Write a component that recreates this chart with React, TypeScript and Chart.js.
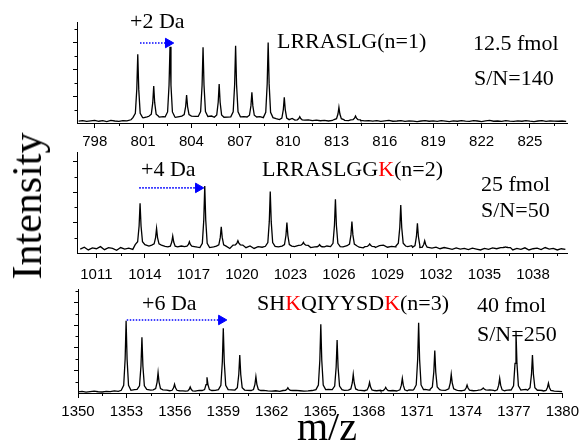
import React, { useEffect, useRef } from 'react';
import { Chart, registerables } from 'chart.js';

Chart.register(...registerables);

// ---------- data ----------
const NOISE_STEP = 0.25;

// panel 1: LRRASLG (n=1)
const xRange1 = [796.9, 827.3];
const yMax1 = 7.54;
const noiseStart1 = 797;
const noise1 = [
  14, 18, 12, 16, 20, 13, 17, 11, 19, 15, 12, 18,
  16, 24, 35, 40, 38, 45, 42, 50, 44, 48, 40, 46,
  42, 48, 45, 52, 46, 50, 44, 49, 45, 52, 47, 43,
  48, 44, 50, 46, 42, 47, 40, 45, 42, 48, 44, 40,
  38, 32, 28, 25, 30, 34, 26, 22, 20, 24, 18, 21,
  17, 20, 15, 19, 22, 26, 20, 18, 30, 24, 19, 16,
  18, 14, 17, 12, 16, 19, 13, 15, 18, 12, 16, 14,
  11, 15, 18, 13, 16, 12, 17, 14, 11, 16, 13, 18,
  14, 12, 17, 15, 11, 16, 19, 13, 15, 12, 17, 14,
  12, 16, 13, 18, 14, 11, 15, 17, 12, 16, 14, 13,
  15, 12,
];
const peakMz1 = [800.67, 801.66, 802.67, 803.7, 804.72, 805.72, 806.74, 807.75, 808.76, 809.76, 810.72, 813.15, 814.18];
const peakH1 = [5.13, 2.76, 5.69, 2.09, 5.65, 2.91, 5.77, 2.29, 6.0, 1.92, 0.47, 1.17, 0.52];
const arrow1 = { from: 800.81, to: 802.86, y: 5.97 };

// panel 2: LRRASLGGK (n=2)
const xRange2 = [1009.8, 1040.1];
const yMax2 = 6.64;
const noiseStart2 = 1010;
const noise2 = [
  25, 38, 20, 33, 28, 42, 22, 35, 30, 18, 36, 26,
  32, 24, 40, 55, 48, 45, 38, 52, 36, 44, 30, 40,
  34, 46, 28, 42, 50, 38, 44, 36, 48, 40, 32, 45,
  38, 30, 44, 52, 40, 35, 46, 30, 42, 38, 50, 44,
  48, 40, 36, 45, 32, 42, 38, 50, 44, 36, 52, 40,
  30, 46, 38, 42, 55, 40, 36, 48, 44, 38, 34, 50,
  42, 36, 48, 52, 38, 44, 40, 46, 34, 42, 48, 38,
  44, 36, 40, 32, 38, 28, 36, 30, 24, 34, 26, 30,
  22, 32, 26, 20, 30, 24, 34, 28, 22, 36, 26, 20,
  30, 24, 34, 20, 28, 32, 22, 36, 26, 30, 20, 28,
  24,
];
const peakMz2 = [1013.7, 1014.72, 1015.72, 1016.75, 1017.7, 1018.72, 1019.75, 1021.75, 1022.78, 1023.8, 1024.8, 1025.78, 1026.8, 1027.9, 1029.82, 1030.85, 1031.3, 1036.3];
const peakH2 = [3.27, 1.62, 1.12, 0.75, 4.41, 1.73, 0.81, 4.04, 2.0, 0.7, 0.55, 3.53, 2.06, 0.6, 3.16, 1.95, 0.8, 0.4];
const arrow2 = { from: 1013.65, to: 1017.6, y: 4.28 };

// panel 3: SHKQIYYSDK (n=3)
const xRange3 = [1350, 1380];
const yMax3 = 9.2;
const noiseStart3 = 1350;
const noise3 = [
  10, 14, 8, 12, 16, 11, 9, 14, 12, 18, 15, 20,
  24, 28, 30, 26, 32, 28, 25, 30, 28, 24, 26, 22,
  20, 24, 18, 22, 16, 20, 24, 18, 22, 26, 24, 28,
  30, 26, 28, 32, 26, 30, 24, 28, 22, 20, 24, 18,
  16, 20, 14, 18, 22, 26, 24, 20, 16, 18, 22, 26,
  30, 28, 32, 26, 30, 28, 24, 28, 26, 22, 24, 20,
  22, 18, 20, 24, 20, 16, 22, 18, 20, 24, 28, 26,
  30, 28, 32, 26, 30, 28, 26, 24, 28, 22, 24, 20,
  22, 18, 20, 24, 26, 22, 28, 24, 20, 18, 24, 28,
  30, 26, 28, 32, 28, 24, 26, 22, 20, 18, 16, 14,
  12,
];
const peakMz3 = [1352.98, 1353.96, 1354.96, 1355.98, 1356.95, 1357.99, 1359.0, 1360.02, 1361.02, 1363.0, 1365.04, 1366.05, 1367.05, 1368.06, 1369.06, 1370.09, 1371.1, 1372.1, 1373.12, 1374.1, 1375.1, 1376.12, 1377.13, 1378.15, 1379.14];
const peakH3 = [6.4, 4.93, 1.8, 0.77, 0.53, 1.39, 5.72, 3.36, 1.44, 0.47, 6.08, 4.69, 1.65, 0.95, 0.5, 1.3, 6.22, 3.75, 1.65, 0.7, 0.45, 1.3, 5.5, 3.36, 0.86];
const arrow3 = { from: 1353.02, to: 1359.18, y: 6.46 };

const xTickStep = 3;
const yTickStep = 2;

// ---------- helpers ----------
type Pt = { x: number; y: number };

// peak outline (offset in m/z, fraction of peak height above local noise)
const PEAK_SHAPE: [number, number][] = [
  [-0.3, 0], [-0.15, 0.07], [-0.06, 0.45], [0, 1], [0.06, 0.45], [0.15, 0.07], [0.3, 0],
];

function buildSpectrum(start: number, noise: number[], mz: number[], h: number[]): Pt[] {
  const pts: Pt[] = [];
  const noiseAt = (x: number) => {
    const i = Math.max(0, Math.min(noise.length - 1, Math.round((x - start) / NOISE_STEP)));
    return noise[i] / 100;
  };
  noise.forEach((v, i) => {
    const x = start + i * NOISE_STEP;
    if (mz.every((m) => Math.abs(m - x) > 0.3)) pts.push({ x, y: v / 100 });
  });
  mz.forEach((m, i) => {
    const nb = noiseAt(m);
    PEAK_SHAPE.forEach(([dx, f]) => {
      pts.push({ x: m + dx, y: f === 1 ? h[i] : nb + (h[i] - nb) * f });
    });
  });
  pts.sort((a, b) => a.x - b.x);
  return pts;
}

type PanelCfg = {
  top: number;
  height: number;
  areaLeft: number;
  areaTop: number;
  areaRight: number;
  baseline: number;
  labelPad: number;
  xRange: number[];
  yMax: number;
  noiseStart: number;
  noise: number[];
  mz: number[];
  h: number[];
  arrow: { from: number; to: number; y: number };
};

function makeMinorPlugin(cfg: PanelCfg) {
  return {
    id: 'minorTicks',
    afterDraw(chart: any) {
      const ctx = chart.ctx as CanvasRenderingContext2D;
      const xs = chart.scales.x;
      const ys = chart.scales.y;
      const area = chart.chartArea;
      ctx.save();
      ctx.strokeStyle = '#000';
      ctx.lineWidth = 1;
      const half = xTickStep / 2;
      for (let v = Math.ceil(cfg.xRange[0] / half) * half; v <= cfg.xRange[1]; v += half) {
        if (Math.abs(v / xTickStep - Math.round(v / xTickStep)) < 1e-6) continue;
        const px = Math.round(xs.getPixelForValue(v)) + 0.5;
        ctx.beginPath();
        ctx.moveTo(px, area.bottom);
        ctx.lineTo(px, area.bottom + 3);
        ctx.stroke();
      }
      for (let v = 1; v <= cfg.yMax; v += yTickStep) {
        const py = Math.round(ys.getPixelForValue(v)) + 0.5;
        ctx.beginPath();
        ctx.moveTo(area.left, py);
        ctx.lineTo(area.left - 2.5, py);
        ctx.stroke();
      }
      ctx.restore();
    },
  };
}

function Panel({ cfg }: { cfg: PanelCfg }) {
  const ref = useRef<HTMLCanvasElement>(null);
  useEffect(() => {
    if (!ref.current) return;
    const spectrum = buildSpectrum(cfg.noiseStart, cfg.noise, cfg.mz, cfg.h);
    const headShift = 0.3;
    const chart = new Chart(ref.current, {
      type: 'line',
      data: {
        datasets: [
          {
            data: spectrum,
            borderColor: '#000',
            borderWidth: 1.3,
            pointRadius: 0,
            tension: 0,
            fill: false,
          },
          {
            data: [
              { x: cfg.arrow.from, y: cfg.arrow.y },
              { x: cfg.arrow.to - headShift, y: cfg.arrow.y },
            ],
            borderColor: '#0000ff',
            borderWidth: 1.6,
            borderDash: [1.5, 1.5],
            pointRadius: 0,
            tension: 0,
          },
          {
            data: [{ x: cfg.arrow.to - headShift, y: cfg.arrow.y }],
            showLine: false,
            pointStyle: 'triangle',
            rotation: 90,
            pointRadius: 5.5,
            backgroundColor: '#0000ff',
            borderColor: '#0000ff',
            borderWidth: 1,
          },
        ] as any,
      },
      options: {
        responsive: false,
        animation: false,
        events: [],
        layout: {
          padding: { top: cfg.areaTop - cfg.top, right: 584 - cfg.areaRight, left: 0, bottom: 0 },
        },
        plugins: { legend: { display: false }, tooltip: { enabled: false } },
        scales: {
          x: {
            type: 'linear',
            min: cfg.xRange[0],
            max: cfg.xRange[1],
            afterFit: (s: any) => {
              s.height = cfg.top + cfg.height - cfg.baseline;
            },
            border: { display: true, color: '#000', width: 1 },
            grid: { drawOnChartArea: false, drawTicks: true, tickLength: 5, color: '#000', tickColor: '#000' },
            ticks: {
              stepSize: xTickStep,
              includeBounds: false,
              autoSkip: false,
              maxRotation: 0,
              minRotation: 0,
              color: '#000',
              padding: cfg.labelPad,
              font: { family: '"Liberation Sans", Arial, sans-serif', size: 15 },
              callback: (v: any) => String(v),
            },
          },
          y: {
            type: 'linear',
            min: 0,
            max: cfg.yMax,
            afterFit: (s: any) => {
              s.width = cfg.areaLeft;
            },
            border: { display: true, color: '#000', width: 1 },
            grid: {
              drawOnChartArea: false,
              drawTicks: true,
              tickLength: 4,
              color: '#000',
              tickColor: (c: any) => (c.tick && c.tick.value === 0 ? 'rgba(0,0,0,0)' : '#000'),
            },
            ticks: {
              stepSize: yTickStep,
              includeBounds: false,
              autoSkip: false,
              padding: 0,
              callback: () => '',
            },
          },
        },
      } as any,
      plugins: [makeMinorPlugin(cfg)],
    });
    return () => chart.destroy();
  }, []);
  return (
    <canvas
      ref={ref}
      width={584}
      height={cfg.height}
      style={{ position: 'absolute', left: 0, top: cfg.top, width: 584, height: cfg.height }}
    />
  );
}

const panels: PanelCfg[] = [
  {
    top: 0, height: 150, areaLeft: 77, areaTop: 22, areaRight: 567, baseline: 123, labelPad: 5,
    xRange: xRange1, yMax: yMax1, noiseStart: noiseStart1, noise: noise1, mz: peakMz1, h: peakH1, arrow: arrow1,
  },
  {
    top: 140, height: 150, areaLeft: 77, areaTop: 152, areaRight: 567, baseline: 253, labelPad: 8,
    xRange: xRange2, yMax: yMax2, noiseStart: noiseStart2, noise: noise2, mz: peakMz2, h: peakH2, arrow: arrow2,
  },
  {
    top: 280, height: 140, areaLeft: 78, areaTop: 289, areaRight: 565, baseline: 393, labelPad: 5,
    xRange: xRange3, yMax: yMax3, noiseStart: noiseStart3, noise: noise3, mz: peakMz3, h: peakH3, arrow: arrow3,
  },
];

const serif = '"Liberation Serif", "Times New Roman", serif';
const red = '#ff0000';

function T({ x, y, size = 22, children }: { x: number; y: number; size?: number; children: React.ReactNode }) {
  return (
    <div
      style={{
        position: 'absolute',
        left: x,
        top: y,
        fontFamily: serif,
        fontSize: size,
        lineHeight: 1,
        whiteSpace: 'nowrap',
        color: '#000',
      }}
    >
      {children}
    </div>
  );
}

export default function App() {
  return (
    <div
      style={{
        position: 'fixed',
        left: 0,
        top: 0,
        width: 584,
        height: 446,
        background: '#fff',
        overflow: 'hidden',
      }}
    >
      {panels.map((p, i) => (
        <Panel key={i} cfg={p} />
      ))}
      <T x={130} y={10}>+2 Da</T>
      <T x={277} y={30}>LRRASLG(n=1)</T>
      <T x={473} y={32}>12.5 fmol</T>
      <T x={474} y={67}>S/N=140</T>

      <T x={141} y={158}>+4 Da</T>
      <T x={262} y={158}>
        LRRASLGG<span style={{ color: red }}>K</span>(n=2)
      </T>
      <T x={481} y={173}>25 fmol</T>
      <T x={481} y={199}>S/N=50</T>

      <T x={142} y={292}>+6 Da</T>
      <T x={257} y={292}>
        SH<span style={{ color: red }}>K</span>QIYYSD<span style={{ color: red }}>K</span>(n=3)
      </T>
      <T x={477} y={294}>40 fmol</T>
      <T x={477} y={323}>S/N=250</T>

      <div
        style={{
          position: 'absolute',
          left: 27,
          top: 206,
          transform: 'translate(-50%, -50%) rotate(-90deg)',
          fontFamily: serif,
          fontSize: 42,
          lineHeight: 1,
          whiteSpace: 'nowrap',
          color: '#000',
        }}
      >
        Intensity
      </div>
      <div
        style={{
          position: 'absolute',
          left: 327,
          top: 407,
          transform: 'translateX(-50%)',
          fontFamily: serif,
          fontSize: 40,
          lineHeight: 1,
          whiteSpace: 'nowrap',
          color: '#000',
        }}
      >
        m/z
      </div>
    </div>
  );
}
